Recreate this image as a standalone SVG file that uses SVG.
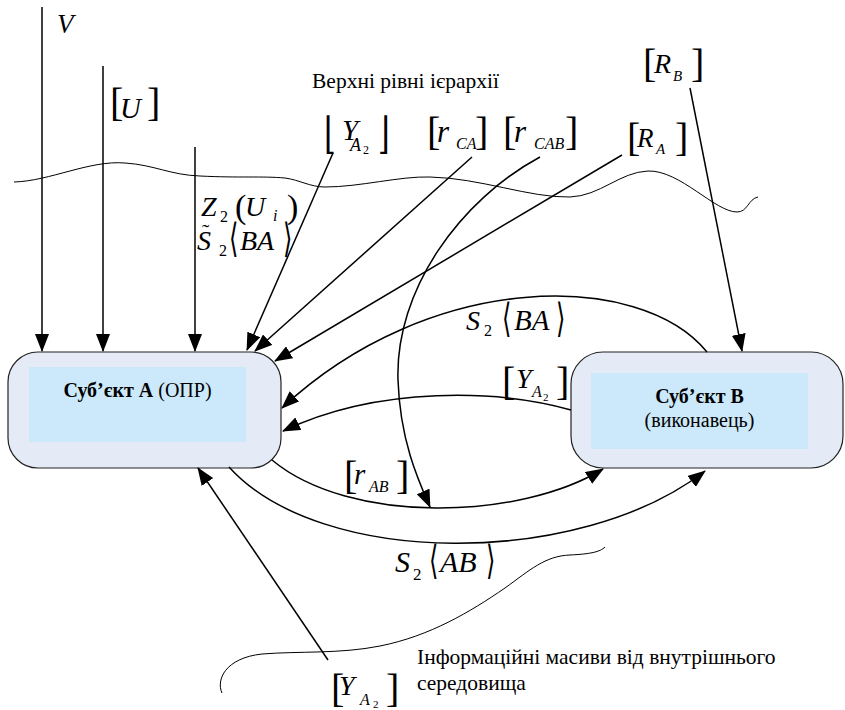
<svg xmlns="http://www.w3.org/2000/svg" width="845" height="710" viewBox="0 0 845 710">
<style>
.ln{fill:none;stroke:#000;stroke-width:1.5}
.wv{fill:none;stroke:#000;stroke-width:1}
.box{fill:#E5EBF6;stroke:#222;stroke-width:1.2}
.inner{fill:#CCE9FB;stroke:none}
text{font-family:'Liberation Serif','DejaVu Serif',serif;fill:#000}
.mi{font-style:italic}
.up{font-style:normal}
.br{font-style:normal;font-size:40px}
.ang{font-family:'DejaVu Sans','DejaVu Serif',sans-serif;font-size:40px;font-style:normal}
.fl{font-family:'DejaVu Sans','DejaVu Serif',sans-serif;font-weight:200;font-size:30px}
</style>
<defs>
<marker id="ah" markerWidth="18" markerHeight="14" refX="17" refY="7" orient="auto" markerUnits="userSpaceOnUse"><path d="M0,0 L18,7 L0,14 z" fill="#000"/></marker>
</defs>

<g id="waves">
<path class="wv" d="M14,182 C50,181 90,160 125,163 C155,165 170,175 200,176 C240,178 262,176 285,178 C300,180 310,187 325,187 C360,187 400,176 430,177 C480,178 530,198 570,197 C600,196 620,172 648,171 C680,170 715,212 737,212 C748,212 748,199 758,197"/>
<path class="wv" d="M222,693 C216,680 225,658 262,654 C300,651 340,654 380,646 C430,636 470,612 505,588 C530,570 545,556 570,555 C590,554 600,552 605,547"/>
</g>

<g id="nodeA">
<rect class="box" x="8" y="352" width="273" height="116" rx="30" ry="30"/>
<rect class="inner" x="29" y="367" width="217" height="75"/>
<text x="137.5" y="397" font-size="20" text-anchor="middle"><tspan font-weight="bold">Суб’єкт А</tspan> (ОПР)</text>
</g>

<g id="nodeB">
<rect class="box" x="571" y="352" width="272" height="116" rx="32" ry="32"/>
<rect class="inner" x="591" y="373" width="217" height="76"/>
<text x="699.5" y="403" font-size="20" text-anchor="middle" font-weight="bold">Суб’єкт В</text>
<text x="699.5" y="427" font-size="20" text-anchor="middle">(виконавець)</text>
</g>

<g id="connectors">
<line class="ln" x1="42" y1="7" x2="42" y2="351" marker-end="url(#ah)"/>
<line class="ln" x1="103" y1="66" x2="103" y2="351" marker-end="url(#ah)"/>
<line class="ln" x1="195" y1="147" x2="195" y2="351" marker-end="url(#ah)"/>
<line class="ln" x1="333" y1="153" x2="247" y2="350" marker-end="url(#ah)"/>
<line class="ln" x1="472" y1="157" x2="255" y2="351" marker-end="url(#ah)"/>
<path class="ln" d="M540,157 C460,200 395,290 398,380 C400,440 418,480 430,507" marker-end="url(#ah)"/>
<line class="ln" x1="622" y1="155" x2="275" y2="361" marker-end="url(#ah)"/>
<line class="ln" x1="690" y1="88" x2="742" y2="351" marker-end="url(#ah)"/>
<path class="ln" d="M707,352 C640,270 430,270 282,408" marker-end="url(#ah)"/>
<path class="ln" d="M571,410 C500,390 380,385 283,431" marker-end="url(#ah)"/>
<path class="ln" d="M272,460 C350,525 520,520 603,469" marker-end="url(#ah)"/>
<path class="ln" d="M229,467 C320,568 580,568 705,471" marker-end="url(#ah)"/>
<line class="ln" x1="328" y1="660" x2="198" y2="468" marker-end="url(#ah)"/>
</g>

<g id="labels">
<text class="mi" x="57" y="33" font-size="27">V</text>

<text class="mi" font-size="29"><tspan class="br" x="110" y="116">[</tspan><tspan x="120" y="118">U</tspan><tspan class="br" x="147" y="116">]</tspan></text>

<text class="mi" font-size="28"><tspan x="201" y="216">Z</tspan><tspan class="up" x="220" y="222" font-size="16">2</tspan><tspan class="up" x="235" y="218" font-size="34">(</tspan><tspan x="245" y="216">U</tspan><tspan x="273" y="221" font-size="16">i</tspan><tspan class="up" x="287" y="218" font-size="34">)</tspan></text>

<text class="mi" font-size="28"><tspan class="up" x="202" y="239" font-size="22">˜</tspan><tspan x="197" y="250">S</tspan><tspan class="up" x="219" y="256" font-size="16">2</tspan><tspan x="240" y="250">BA</tspan></text>
<text class="ang" transform="translate(229,252) scale(0.6,1)">⟨</text>
<text class="ang" transform="translate(283,252) scale(0.6,1)">⟩</text>

<text class="fl" transform="translate(324,148) scale(1,1.45)">⌊</text>
<text class="mi" font-size="29"><tspan x="342" y="140">Y</tspan><tspan x="350" y="151" font-size="18">A</tspan><tspan class="up" x="363" y="154" font-size="12">2</tspan></text>
<text class="fl" transform="translate(378,148) scale(1,1.45)">⌋</text>

<text class="mi" font-size="31"><tspan class="br" x="427" y="145">[</tspan><tspan x="437" y="142">r</tspan><tspan x="456" y="149" font-size="16">CA</tspan><tspan class="br" x="475" y="145">]</tspan></text>

<text class="mi" font-size="31"><tspan class="br" x="503" y="145">[</tspan><tspan x="514" y="142">r</tspan><tspan x="534" y="149" font-size="16">CAB</tspan><tspan class="br" x="565" y="145">]</tspan></text>

<text class="mi" font-size="27"><tspan class="br" x="627" y="151">[</tspan><tspan x="637" y="147">R</tspan><tspan x="656" y="154" font-size="15">A</tspan><tspan class="br" x="675" y="151">]</tspan></text>

<text class="mi" font-size="28"><tspan class="br" x="643" y="77">[</tspan><tspan x="654" y="73">R</tspan><tspan x="673" y="81" font-size="15">B</tspan><tspan class="br" x="691" y="77">]</tspan></text>

<text class="mi" font-size="28"><tspan x="466" y="330">S</tspan><tspan class="up" x="484" y="336" font-size="16">2</tspan><tspan x="514" y="330" font-size="29">BA</tspan></text>
<text class="ang" transform="translate(502,332) scale(0.6,1)">⟨</text>
<text class="ang" transform="translate(556,332) scale(0.6,1)">⟩</text>

<text class="mi" font-size="28"><tspan class="br" x="502" y="395" font-size="42">[</tspan><tspan x="516" y="388">Y</tspan><tspan x="532" y="397" font-size="16">A</tspan><tspan class="up" x="543" y="401" font-size="11">2</tspan><tspan class="br" x="556" y="395" font-size="42">]</tspan></text>

<text class="mi" font-size="29"><tspan class="br" x="344" y="489">[</tspan><tspan x="354" y="484">r</tspan><tspan x="369" y="492" font-size="16">AB</tspan><tspan class="br" x="396" y="489">]</tspan></text>

<text class="mi" font-size="30"><tspan x="395" y="572">S</tspan><tspan class="up" x="413" y="580" font-size="17">2</tspan><tspan x="440" y="572">AB</tspan></text>
<text class="ang" font-size="42" transform="translate(429,574) scale(0.6,1)">⟨</text>
<text class="ang" font-size="42" transform="translate(486,574) scale(0.6,1)">⟩</text>

<text class="mi" font-size="28"><tspan class="br" x="331" y="702" font-size="42">[</tspan><tspan x="339" y="695">Y</tspan><tspan x="360" y="705" font-size="16">A</tspan><tspan class="up" x="373" y="708" font-size="11">2</tspan><tspan class="br" x="386" y="702" font-size="42">]</tspan></text>

<text x="312" y="88" font-size="21.5">Верхні рівні ієрархії</text>
<text x="417" y="664" font-size="21.5">Інформаційні масиви від внутрішнього</text>
<text x="417" y="690" font-size="21.5">середовища</text>
</g>
</svg>
